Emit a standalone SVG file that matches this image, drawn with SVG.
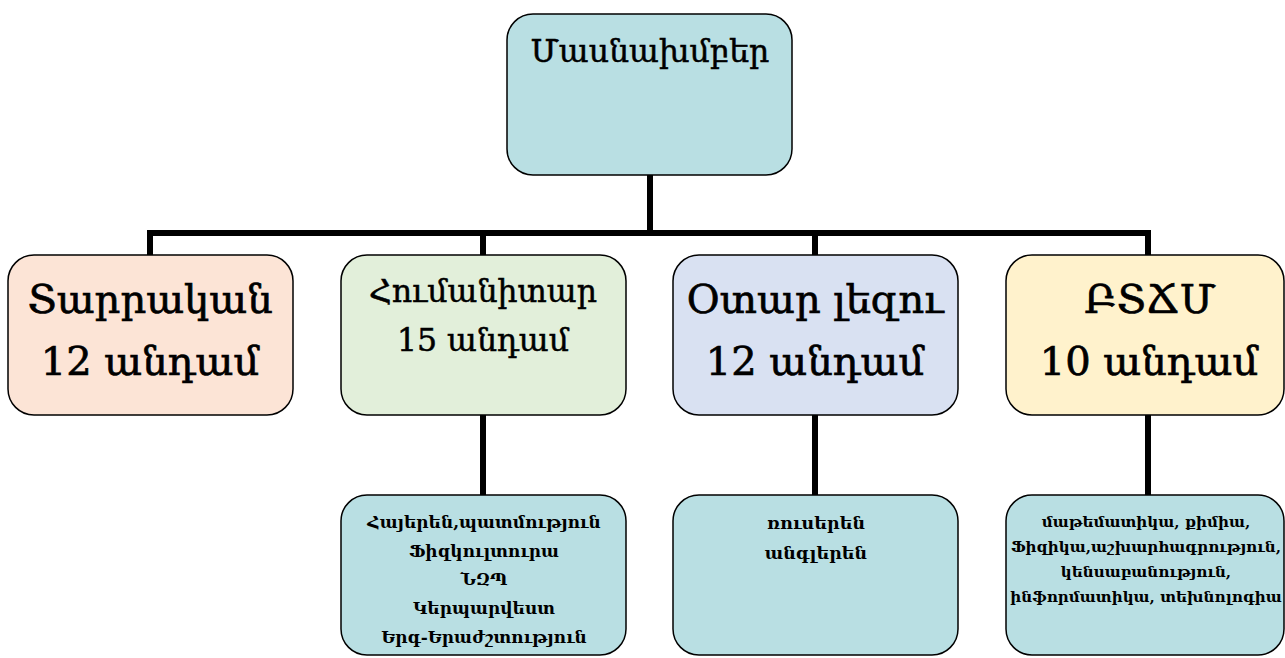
<svg xmlns="http://www.w3.org/2000/svg" width="1285" height="658" viewBox="0 0 1285 658">
<style>
.box{stroke:#000;stroke-width:1.5}
.t{font-family:"DejaVu Serif","Noto Serif",serif;text-anchor:middle;fill:#000}
.big{font-size:40px;stroke:#000;stroke-width:0.7}
.mid{font-size:31.5px;stroke:#000;stroke-width:0.5}
.sm{font-size:17px;font-weight:bold}
.xs{font-size:15.2px;font-weight:bold}
.conn{stroke:#000;stroke-width:6;fill:none}
</style>
<rect width="1285" height="658" fill="#fff"/>
<g id="connectors">
<path class="conn" d="M650 175V233M150 256V233H1148V256M483 233V256M815 233V256"/>
<path class="conn" d="M483 415V496M815 415V496M1148 415V496"/>
</g>
<g id="root">
<rect class="box" x="507" y="14" width="285" height="161" rx="26" fill="#B9DFE3"/>
<text class="t mid" x="650" y="62">Մասնախմբեր</text>
</g>
<g id="tarrakan">
<rect class="box" x="8" y="255" width="285" height="160" rx="26" fill="#FCE4D6"/>
<text class="t big" x="150" y="313">Տարրական</text>
<text class="t big" x="150" y="375">12 անդամ</text>
</g>
<g id="humanitar">
<rect class="box" x="341" y="255" width="285" height="160" rx="26" fill="#E2EFDA"/>
<text class="t mid" x="483" y="302">Հումանիտար</text>
<text class="t mid" x="483" y="351">15 անդամ</text>
</g>
<g id="otar">
<rect class="box" x="673" y="255" width="285" height="160" rx="26" fill="#D9E1F2"/>
<text class="t big" x="815" y="313">Օտար լեզու</text>
<text class="t big" x="815" y="375">12 անդամ</text>
</g>
<g id="btchm">
<rect class="box" x="1006" y="255" width="278" height="160" rx="26" fill="#FFF2CC"/>
<text class="t big" x="1150" y="313">ԲՏՃՄ</text>
<text class="t big" x="1149" y="375">10 անդամ</text>
</g>
<g id="hum-sub">
<rect class="box" x="341" y="495" width="285" height="160" rx="26" fill="#B9DFE3"/>
<text class="t sm" x="484" y="528">Հայերեն,պատմություն</text>
<text class="t sm" x="484" y="557">Ֆիզկուլտուրա</text>
<text class="t sm" x="484" y="585">ՆԶՊ</text>
<text class="t sm" x="484" y="614">Կերպարվեստ</text>
<text class="t sm" x="484" y="643">Երգ-Երաժշտություն</text>
</g>
<g id="otar-sub">
<rect class="box" x="673" y="495" width="285" height="160" rx="26" fill="#B9DFE3"/>
<text class="t sm" x="816" y="529" style="font-size:17.5px">ռուսերեն</text>
<text class="t sm" x="816" y="559" style="font-size:17.5px">անգլերեն</text>
</g>
<g id="btchm-sub">
<rect class="box" x="1006" y="495" width="278" height="160" rx="26" fill="#B9DFE3"/>
<text class="t xs" x="1146" y="527">մաթեմատիկա, քիմիա,</text>
<text class="t xs" x="1146" y="552">Ֆիզիկա,աշխարհագրություն,</text>
<text class="t xs" x="1146" y="577">կենսաբանություն,</text>
<text class="t xs" x="1146" y="602">ինֆորմատիկա, տեխնոլոգիա</text>
</g>
</svg>
